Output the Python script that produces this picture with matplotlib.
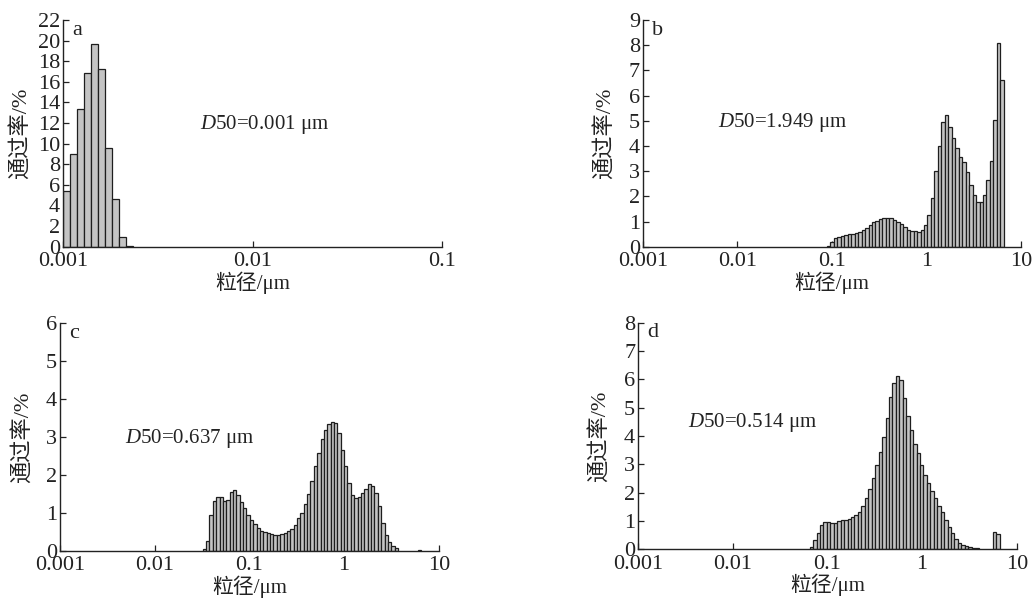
import numpy as np
import matplotlib
matplotlib.use("Agg")
import matplotlib.pyplot as plt
from matplotlib.ticker import FixedLocator, NullLocator, FixedFormatter

plt.rcParams['font.family'] = ['Liberation Serif', 'Noto Sans CJK SC', 'DejaVu Sans']
plt.rcParams['mathtext.fontset'] = 'custom'
plt.rcParams['mathtext.rm'] = 'Liberation Serif'
plt.rcParams['mathtext.it'] = 'Liberation Serif:italic'

# ---------------- data ----------------
# panel a
a_start, a_end = 0.001, 0.00234
a_vals = [5.4, 9.0, 13.4, 16.9, 19.7, 17.2, 9.6, 4.6, 0.9, 0.1]

# panel b
b_start, b_end = 0.0883, 6.53
b_vals = [0.03, 0.20, 0.33, 0.39, 0.44, 0.47, 0.50, 0.52, 0.54, 0.58,
          0.66, 0.76, 0.87, 0.97, 1.04, 1.09, 1.12, 1.13, 1.12, 1.06,
          0.99, 0.90, 0.79, 0.68, 0.63, 0.61,
          0.60, 0.68, 0.86, 1.25, 1.93, 3.00, 4.00, 4.97, 5.22, 4.74,
          4.32, 3.92, 3.58, 3.36, 2.96, 2.43, 2.04, 1.78, 1.78, 2.07,
          2.66, 3.39, 5.03, 8.10, 6.60]

# panel c
c_start, c_end = 0.0321, 3.71
c_vals = [0.035, 0.26, 0.93, 1.32, 1.42, 1.42, 1.32, 1.34, 1.56, 1.60,
          1.47, 1.29, 1.13, 0.95, 0.81, 0.70, 0.61, 0.53, 0.49, 0.46,
          0.44, 0.42, 0.42, 0.44, 0.47, 0.51, 0.58, 0.69, 0.85,
          1.00, 1.22, 1.50, 1.84, 2.23, 2.59, 2.94, 3.18, 3.34, 3.40,
          3.36, 3.11, 2.67, 2.23, 1.78, 1.47, 1.38, 1.42, 1.53, 1.64,
          1.75, 1.71, 1.51, 1.19, 0.72, 0.41, 0.24, 0.13, 0.06]
c_extra_start, c_extra_end = 6.0, 6.5
c_extra_vals = [0.03]

# panel d
d_start, d_end = 0.065, 3.95
d_vals = [0.09, 0.33, 0.59, 0.86, 0.95, 0.98, 0.94, 0.94, 1.00, 1.04,
          1.04, 1.06, 1.15, 1.21, 1.33, 1.54, 1.80, 2.12, 2.51, 2.98,
          3.42, 3.96, 4.63, 5.37, 5.87, 6.12, 5.96, 5.33, 4.69, 4.20,
          3.71, 3.39, 2.98, 2.63, 2.33, 2.07, 1.80, 1.54, 1.30, 1.04,
          0.80, 0.57, 0.35, 0.21, 0.15, 0.12, 0.08, 0.05, 0.03]
d_extra_start, d_extra_end = 5.6, 6.6
d_extra_vals = [0.62, 0.55]

xlabel = '粒径/μm'
ylabel = '通过率/%'

panels = [
    dict(tag='a', segs=[(a_start, a_end, a_vals)],
         xlim=(0.001, 0.1), xticks=[0.001, 0.01, 0.1], xtl=['0.001', '0.01', '0.1'],
         ylim=(0, 22), yticks=list(range(0, 23, 2)),
         d50='$\\mathit{D}$50=0.001 μm', d50xy=(200, 125),
         rect=(63, 20, 442, 246.7), ylab_x=32),
    dict(tag='b', segs=[(b_start, b_end, b_vals)],
         xlim=(0.001, 10), xticks=[0.001, 0.01, 0.1, 1, 10], xtl=['0.001', '0.01', '0.1', '1', '10'],
         ylim=(0, 9), yticks=list(range(0, 10)),
         d50='$\\mathit{D}$50=1.949 μm', d50xy=(718, 123),
         rect=(642.7, 20, 1021.3, 246.7), ylab_x=616),
    dict(tag='c', segs=[(c_start, c_end, c_vals), (c_extra_start, c_extra_end, c_extra_vals)],
         xlim=(0.001, 10), xticks=[0.001, 0.01, 0.1, 1, 10], xtl=['0.001', '0.01', '0.1', '1', '10'],
         ylim=(0, 6), yticks=list(range(0, 7)),
         d50='$\\mathit{D}$50=0.637 μm', d50xy=(125, 439),
         rect=(60, 323.3, 438.8, 550.7), ylab_x=34),
    dict(tag='d', segs=[(d_start, d_end, d_vals), (d_extra_start, d_extra_end, d_extra_vals)],
         xlim=(0.001, 10), xticks=[0.001, 0.01, 0.1, 1, 10], xtl=['0.001', '0.01', '0.1', '1', '10'],
         ylim=(0, 8), yticks=list(range(0, 9)),
         d50='$\\mathit{D}$50=0.514 μm', d50xy=(688, 423),
         rect=(638, 322.7, 1016.8, 549.3), ylab_x=611),
]

W, H = 1032, 598
fig = plt.figure(figsize=(W / 100, H / 100), dpi=100)
FS = 16
FS_XL = 15
FS_D50 = 15

for p in panels:
    x0, y0, x1, y1 = p['rect']
    ax = fig.add_axes([x0 / W, 1 - y1 / H, (x1 - x0) / W, (y1 - y0) / H])
    ax.set_xscale('log')
    for s, e, vals in p['segs']:
        edges = np.geomspace(s, e, len(vals) + 1)
        ax.bar(edges[:-1], vals, width=np.diff(edges), align='edge',
               facecolor='#c4c4c4', edgecolor='#1e1e1e', linewidth=0.9, zorder=2)
    ax.set_xlim(*p['xlim'])
    ax.set_ylim(*p['ylim'])
    ax.xaxis.set_major_locator(FixedLocator(p['xticks']))
    ax.xaxis.set_major_formatter(FixedFormatter(p['xtl']))
    ax.xaxis.set_minor_locator(NullLocator())
    ax.set_yticks(p['yticks'])
    ax.set_yticklabels([str(v) for v in p['yticks']])
    for sp in ['top', 'right']:
        ax.spines[sp].set_visible(False)
    for sp in ['left', 'bottom']:
        ax.spines[sp].set_linewidth(1.0)
        ax.spines[sp].set_color('#222222')
    ax.tick_params(direction='in', length=4, width=0.9, labelsize=FS, pad=2, colors='#222222')
    ax.tick_params(axis='x', pad=4)
    ax.set_xlabel(xlabel, fontsize=FS_XL, labelpad=0, color='#222222')
    ax.set_ylabel(ylabel, fontsize=FS, color='#222222')
    ax.yaxis.set_label_coords((p['ylab_x'] - x0) / (x1 - x0), 0.5)
    ax.text(0.025, 0.955, p['tag'], transform=ax.transAxes, fontsize=FS,
            ha='left', va='center', color='#222222')
    dx, dy = p['d50xy']
    fig.text(dx / W, 1 - dy / H, p['d50'], fontsize=FS_D50, ha='left', va='center', color='#222222')

fig.savefig('out.png', dpi=100)
